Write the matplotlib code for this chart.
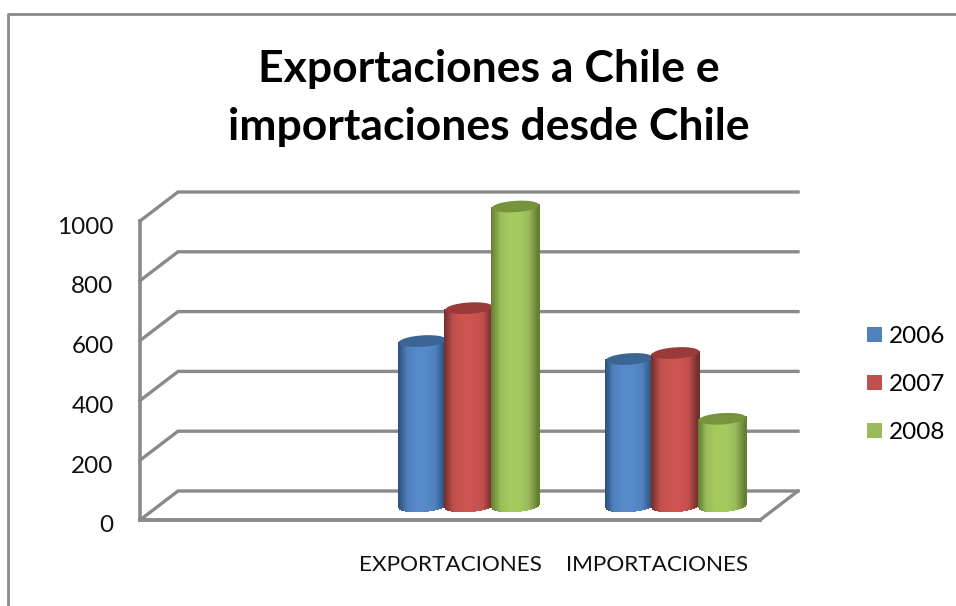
import matplotlib
matplotlib.use('Agg')
import matplotlib.pyplot as plt
import numpy as np
from matplotlib.colors import LinearSegmentedColormap
from matplotlib.lines import Line2D
from matplotlib.patches import Patch, Polygon
from matplotlib.transforms import Affine2D

plt.rcParams['font.family'] = ['Lato', 'DejaVu Sans']

titulo = 'Exportaciones a Chile e\nimportaciones desde Chile'
categorias = ['', 'EXPORTACIONES', 'IMPORTACIONES']
anios = ['2006', '2007', '2008']
valores_2006 = [np.nan, 550, 490]
valores_2007 = [np.nan, 660, 510]
valores_2008 = [np.nan, 1000, 290]
ticks_y = [0, 200, 400, 600, 800, 1000]

series = [valores_2006, valores_2007, valores_2008]
base = ['#4F81BD', '#C0504D', '#9BBB59']
brillo = ['#5589C9', '#CC5451', '#A6CA60']
oscuro = ['#2E4E78', '#732D2B', '#637D33']
tapa = ['#3B6595', '#9A3B39', '#77933C']
gris = '#8A8A8A'

W, H = 956, 606
fig = plt.figure(figsize=(W / 100, H / 100), dpi=100)
ax = fig.add_axes([140 / W, 1 - 520 / H, 620 / W, 299 / H])
ax.set_zorder(2)
ax.set_xlim(0, 3)
ax.set_ylim(0, 1000)

# desplazamiento en pixeles para la pared del fondo y el plano de las barras
fondo = ax.transData + Affine2D().translate(38, 29)
medio = ax.transData + Affine2D().translate(19, 14.5)

# rejilla: diagonal lateral + linea en la pared del fondo
for t in ticks_y:
    p0 = ax.transData.transform((0, t))
    p1 = fondo.transform((0, t))
    p2 = fondo.transform((3, t))
    fig.add_artist(Line2D([p0[0] / W, p1[0] / W, p2[0] / W],
                          [p0[1] / H, p1[1] / H, p2[1] / H],
                          color=gris, lw=2.4, zorder=0.5, solid_joinstyle='miter'))

# suelo y eje vertical
ax.plot([0, 0], [0, 1000], color=gris, lw=2.6, clip_on=False, zorder=1)
ax.plot([0, 3], [0, 0], color=gris, lw=2.8, clip_on=False, zorder=1)
p0 = ax.transData.transform((3, 0))
p1 = fondo.transform((3, 0))
fig.add_artist(Line2D([p0[0] / W, p1[0] / W], [p0[1] / H, p1[1] / H],
                      color=gris, lw=2.4, zorder=0.5))

ancho = 0.228
paso = 0.225
ry = 19
incl = 5
u = np.linspace(-1, 1, 49)
um = (u[:-1] + u[1:]) / 2

for i, vals in enumerate(series):
    cmap = LinearSegmentedColormap.from_list(
        'c' + str(i), [oscuro[i], base[i], brillo[i], brillo[i], base[i], oscuro[i]])
    for j, v in enumerate(vals):
        if np.isnan(v):
            continue
        cx = j + 0.5 + (i - 1) * paso
        xs = cx + u * ancho / 2
        curva = ry * np.sqrt(1 - u ** 2)
        abajo = -curva + incl * u
        arriba = v + incl * u
        X = np.vstack([xs, xs])
        Y = np.vstack([abajo, arriba])
        C = ((um + 1) / 2).reshape(1, -1)
        ax.pcolormesh(X, Y, C, cmap=cmap, vmin=0, vmax=1, shading='flat',
                      transform=medio, clip_on=False, zorder=3 + i,
                      edgecolor='face', linewidth=0.3)
        t = np.linspace(0, 2 * np.pi, 80)
        cap = np.column_stack([cx + np.cos(t) * ancho / 2,
                               v + ry * np.sin(t) + incl * np.cos(t)])
        ax.add_patch(Polygon(cap, closed=True, facecolor=tapa[i], edgecolor='none',
                             transform=medio, clip_on=False, zorder=3 + i))

ax.set_xlim(0, 3)
ax.set_ylim(0, 1000)
for s in ax.spines.values():
    s.set_visible(False)
ax.patch.set_visible(False)
ax.set_xticks([0.5, 1.5, 2.5])
ax.set_xticklabels(categorias, fontsize=16.2, color='#111111')
ax.set_yticks(ticks_y)
ax.tick_params(axis='x', length=0, pad=25.5)
ax.tick_params(axis='y', length=0, pad=19, labelsize=17.5, labelcolor='#111111')
# las etiquetas de valor van un poco por debajo de su linea
for etiqueta in ax.get_yticklabels():
    etiqueta.set_transform(etiqueta.get_transform() + Affine2D().translate(0, -4))

fig.text(489 / W, 1 - 98 / H, titulo, ha='center', va='center', fontsize=32,
         fontweight='bold', color='black', linespacing=1.55)

handles = [Patch(facecolor=c, edgecolor='none') for c in base]
ax.legend(handles, anios, frameon=False, fontsize=17.5, handlelength=0.62,
          handleheight=0.62, handletextpad=0.3, labelspacing=1.11,
          loc='upper left', bbox_to_anchor=(867 / W, 1 - 326 / H),
          bbox_transform=fig.transFigure, borderpad=0, borderaxespad=0)

# marco exterior, solo arriba y a la izquierda
fig.add_artist(Line2D([8 / W, 8 / W, 1], [0, 1 - 14 / H, 1 - 14 / H], color=gris, lw=2))

fig.savefig('out.png', dpi=100)
